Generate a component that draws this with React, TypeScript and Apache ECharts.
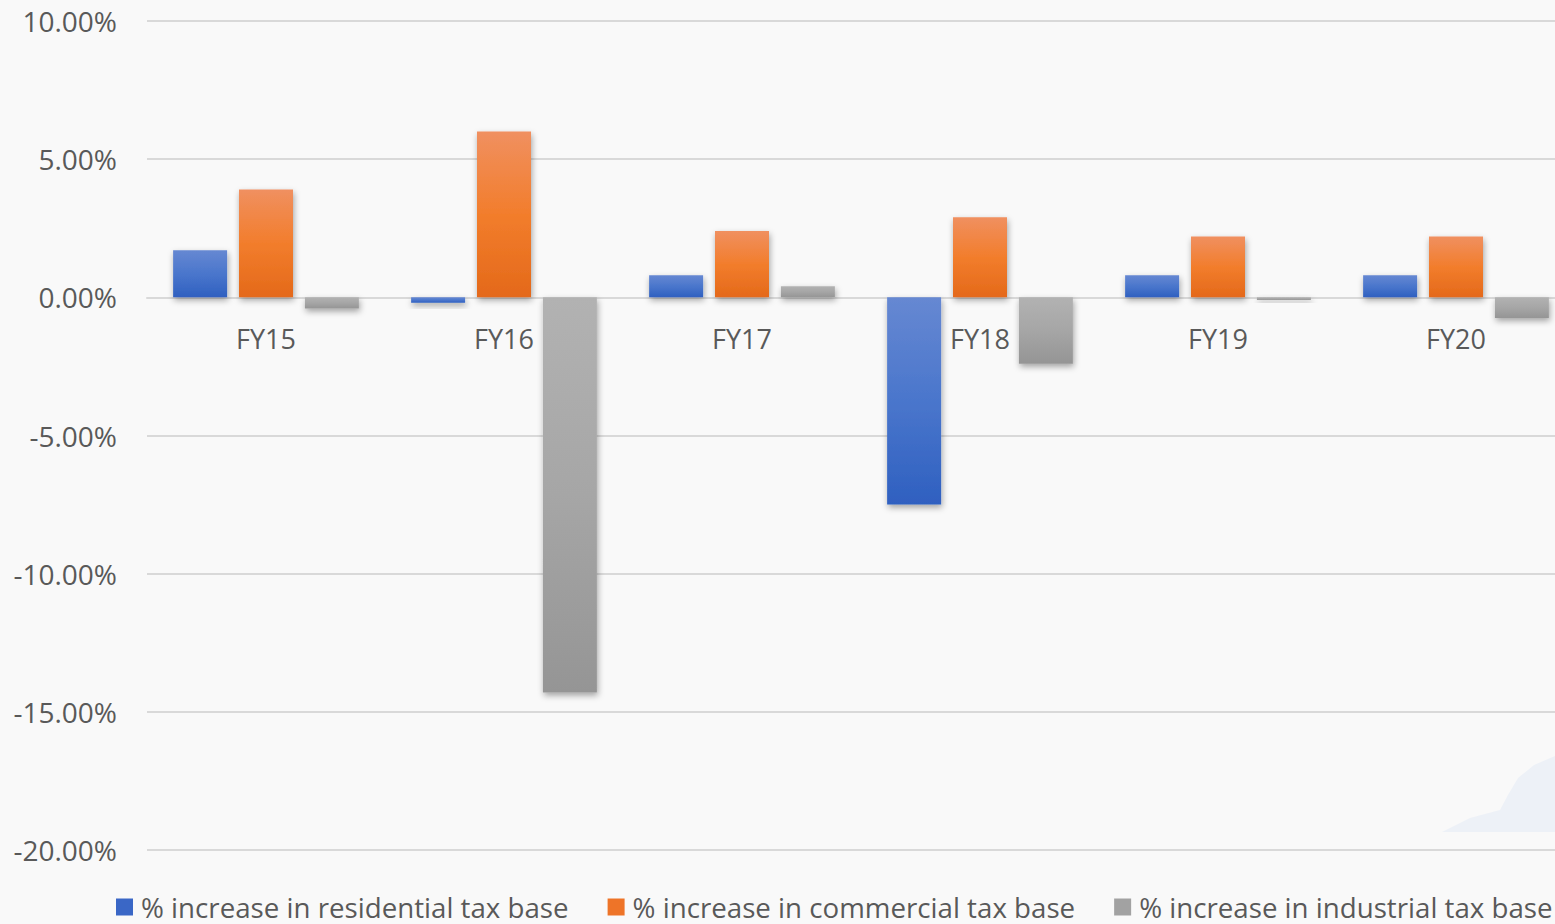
import React, { useEffect, useRef } from "react";
import * as echarts from "echarts";

const categories = ["FY15", "FY16", "FY17", "FY18", "FY19", "FY20"];
const residential = [1.7, -0.2, 0.8, -7.5, 0.8, 0.8];
const commercial = [3.9, 6.0, 2.4, 2.9, 2.2, 2.2];
const industrial = [-0.4, -14.3, 0.4, -2.4, -0.1, -0.75];
const seriesNames = [
  "% increase in residential tax base",
  "% increase in commercial tax base",
  "% increase in industrial tax base",
];
const yMin = -20;
const yMax = 10;
const yStep = 5;

const FONT = "'Open Sans', sans-serif";

export default function App() {
  const ref = useRef<HTMLDivElement>(null);
  useEffect(() => {
    if (!ref.current) return;
    const chart = echarts.init(ref.current, undefined, { renderer: "svg" });
    const barStyle = (top: string, mid: string, bottom: string) => ({
      color: new echarts.graphic.LinearGradient(0, 0, 0, 1, [
        { offset: 0, color: top },
        { offset: 0.5, color: mid },
        { offset: 1, color: bottom },
      ]),
      shadowColor: "rgba(0,0,0,0.35)",
      shadowBlur: 6,
      shadowOffsetY: 3,
      shadowOffsetX: 1,
    });
    const colors = [
      barStyle("#6688d2", "#4a76cc", "#2f60c0"),
      barStyle("#f09060", "#f27d2c", "#e4691a"),
      barStyle("#b2b2b2", "#a6a6a6", "#959595"),
    ];
    const legendColors = ["#3a67c6", "#ee7428", "#a2a2a2"];
    const data = [residential, commercial, industrial];
    const gridTop = 21;
    const gridHeight = 829;
    const zeroOffset = (gridHeight * (0 - yMin)) / (yMax - yMin);
    chart.setOption({
      animation: false,
      backgroundColor: "#f9f9f9",
      textStyle: { fontFamily: FONT },
      graphic: [
        {
          type: "polygon",
          silent: true,
          z: -1,
          shape: {
            points: [
              [1442, 832],
              [1470, 818],
              [1500, 810],
              [1508, 795],
              [1518, 778],
              [1534, 765],
              [1555, 756],
              [1555, 832],
            ],
          },
          style: { fill: "#edf1f7" },
        },
      ],
      grid: {
        left: 147,
        top: gridTop,
        width: 1428,
        height: gridHeight,
        containLabel: false,
        outerBoundsMode: "none",
      },
      legend: {
        left: 116,
        top: 893,
        padding: 0,
        itemWidth: 17,
        itemHeight: 17,
        itemGap: 39,
        icon: "rect",
        textStyle: {
          fontFamily: FONT,
          fontSize: 27.7,
          color: "#595959",
          padding: [0, 0, 0, 3],
        },
        data: seriesNames.map((n, i) => ({
          name: n,
          itemStyle: { color: legendColors[i], shadowBlur: 0, shadowOffsetX: 0, shadowOffsetY: 0 },
        })),
      },
      xAxis: {
        type: "category",
        data: categories,
        offset: -zeroOffset,
        axisLine: { show: true, onZero: false, lineStyle: { color: "#d9d9d9", width: 2 } },
        axisTick: { show: false },
        axisLabel: { fontFamily: FONT, fontSize: 27, color: "#595959", margin: 28 },
      },
      yAxis: {
        type: "value",
        min: yMin,
        max: yMax,
        interval: yStep,
        axisLine: { show: false },
        axisTick: { show: false },
        splitLine: { lineStyle: { color: "#d9d9d9", width: 2 } },
        axisLabel: {
          fontFamily: FONT,
          fontSize: 28,
          color: "#595959",
          margin: 30,
          formatter: (v: number) => v.toFixed(2) + "%",
        },
      },
      series: seriesNames.map((name, i) => ({
        name,
        type: "bar",
        data: data[i],
        barWidth: 54,
        barGap: "22%",
        itemStyle: colors[i],
      })),
    });
    return () => chart.dispose();
  }, []);
  return (
    <div
      ref={ref}
      style={{ position: "fixed", left: 0, top: 0, width: 1555, height: 924, overflow: "hidden" }}
    />
  );
}
